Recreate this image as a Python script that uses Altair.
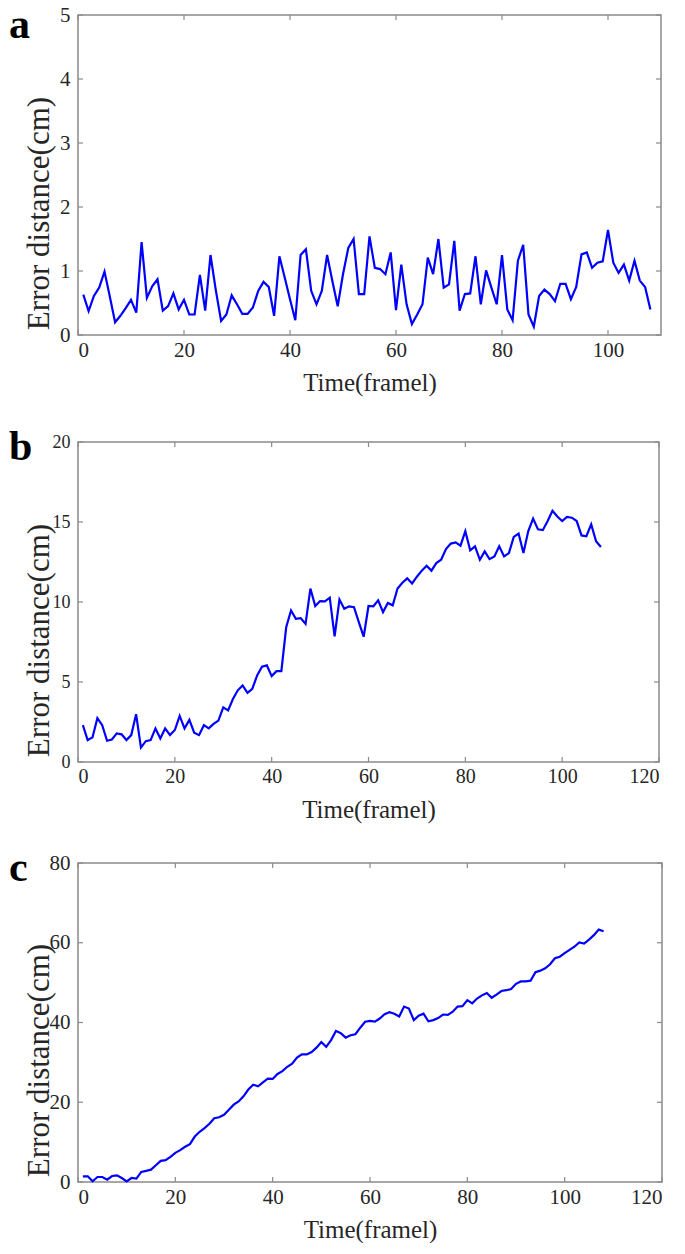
import altair as alt
import pandas as pd

FONT = "Liberation Serif"
GRAY = "#8a8a8a"
LABEL = "#262626"
BLUE = "#0000ff"

frames = list(range(1, 109))

err_a = [0.63, 0.375, 0.61, 0.74, 0.99, 0.6, 0.2, 0.3, 0.42, 0.55,
         0.35, 1.45, 0.58, 0.76, 0.87, 0.38, 0.45, 0.65, 0.4, 0.55,
         0.32, 0.32, 0.94, 0.38, 1.25, 0.7, 0.22, 0.32, 0.62, 0.48,
         0.33, 0.33, 0.43, 0.69, 0.83, 0.75, 0.3, 1.23, 0.9, 0.56,
         0.23, 1.25, 1.34, 0.69, 0.48, 0.69, 1.25, 0.84, 0.45, 0.95,
         1.36, 1.5, 0.64, 0.64, 1.54, 1.05, 1.03, 0.95, 1.29, 0.39,
         1.1, 0.48, 0.17, 0.32, 0.48, 1.21, 0.95, 1.5, 0.74, 0.79,
         1.47, 0.38, 0.64, 0.65, 1.23, 0.48, 1.01, 0.74, 0.48, 1.25,
         0.4, 0.23, 1.16, 1.41, 0.32, 0.13, 0.61, 0.71, 0.64, 0.53,
         0.8, 0.8, 0.56, 0.75, 1.26, 1.29, 1.05, 1.13, 1.15, 1.64,
         1.13, 0.97, 1.1, 0.85, 1.16, 0.85, 0.75, 0.4]

err_b = [2.3, 1.37, 1.54, 2.74, 2.3, 1.33, 1.41, 1.79, 1.73, 1.37,
         1.68, 2.99, 0.9, 1.3, 1.37, 2.1, 1.47, 2.1, 1.68, 2.0,
         2.88, 2.1, 2.63, 1.83, 1.68, 2.3, 2.1, 2.38, 2.59, 3.41,
         3.22, 3.94, 4.48, 4.78, 4.32, 4.57, 5.41, 5.96, 6.04, 5.37,
         5.68, 5.68, 8.42, 9.47, 8.95, 8.99, 8.63, 10.84, 9.75, 10.06,
         10.04, 10.27, 7.85, 10.15, 9.58, 9.73, 9.68, 8.74, 7.83, 9.75,
         9.73, 10.1, 9.37, 9.94, 9.79, 10.84, 11.2, 11.48, 11.16, 11.58,
         11.96, 12.26, 11.96, 12.43, 12.64, 13.31, 13.65, 13.73, 13.52, 14.43,
         13.23, 13.48, 12.64, 13.16, 12.68, 12.85, 13.48, 12.85, 13.06, 14.07,
         14.28, 13.06, 14.43, 15.21, 14.54, 14.49, 15.06, 15.7, 15.34, 15.06,
         15.32, 15.27, 15.06, 14.16, 14.11, 14.85, 13.8, 13.44]

err_c = [1.43, 1.43, 0.17, 1.26, 1.26, 0.6, 1.5, 1.68, 1.0, 0.17,
         1.0, 0.84, 2.53, 2.78, 3.1, 4.2, 5.3, 5.47, 6.3, 7.3,
         8.0, 8.84, 9.5, 11.4, 12.6, 13.5, 14.6, 16.0, 16.25, 16.84,
         18.1, 19.4, 20.2, 21.5, 23.2, 24.4, 24.0, 25.0, 25.9, 25.85,
         27.1, 27.8, 28.9, 29.7, 31.2, 32.0, 32.0, 32.6, 33.7, 35.1,
         33.9, 35.6, 37.9, 37.3, 36.2, 36.8, 37.05, 38.7, 40.2, 40.4,
         40.2, 41.0, 42.1, 42.6, 42.2, 41.5, 44.0, 43.5, 40.6, 41.7,
         42.2, 40.3, 40.6, 41.1, 42.0, 41.9, 42.7, 44.0, 44.1, 45.6,
         44.8, 46.0, 46.8, 47.4, 46.2, 47.0, 47.9, 48.1, 48.4, 49.7,
         50.3, 50.3, 50.5, 52.6, 53.0, 53.6, 54.6, 56.1, 56.5, 57.4,
         58.2, 59.0, 60.1, 59.8, 60.8, 61.9, 63.3, 62.9]

xticks_a = [0, 20, 40, 60, 80, 100]
xticks_bc = [0, 20, 40, 60, 80, 100, 120]
yticks_a = [0, 1, 2, 3, 4, 5]
yticks_b = [0, 5, 10, 15, 20]
yticks_c = [0, 20, 40, 60, 80]

X_TITLE = "Time(framel)"
Y_TITLE = "Error distance(cm)"


def panel(vals, letter, xmax, ymax, xticks, yticks, width, height,
          ylab_size, xlab_size, letter_y):
    df = pd.DataFrame({"t": frames, "v": vals})
    xs = alt.Scale(domain=[0, xmax], nice=False, zero=False)
    ys = alt.Scale(domain=[0, ymax], nice=False, zero=False)
    line = alt.Chart(df).mark_line(color=BLUE, strokeWidth=2.2).encode(
        x=alt.X("t:Q", scale=xs, axis=alt.Axis(
            values=xticks, format="d", title=X_TITLE, labelFontSize=xlab_size,
            labelPadding=4, titleX=width / 2, titleY=55,
            titleBaseline="alphabetic", titleFontSize=25)),
        y=alt.Y("v:Q", scale=ys, axis=alt.Axis(
            values=yticks, format="d", title=Y_TITLE, labelFontSize=ylab_size,
            labelPadding=8, titleX=-39, titleY=height - 122,
            titleAngle=270, titleBaseline="middle", titleAlign="center",
            titleFontSize=31)),
    )
    xt = pd.DataFrame({"t": xticks})
    yt = pd.DataFrame({"v": yticks})
    tick_bottom = alt.Chart(xt).mark_rule(color=GRAY, strokeWidth=1.2).encode(
        x=alt.X("t:Q"),
        y=alt.value(height), y2=alt.value(height - 5))
    tick_top = alt.Chart(xt).mark_rule(color=GRAY, strokeWidth=1.2).encode(
        x=alt.X("t:Q"),
        y=alt.value(0), y2=alt.value(5))
    tick_left = alt.Chart(yt).mark_rule(color=GRAY, strokeWidth=1.2).encode(
        y=alt.Y("v:Q"),
        x=alt.value(0), x2=alt.value(5))
    tick_right = alt.Chart(yt).mark_rule(color=GRAY, strokeWidth=1.2).encode(
        y=alt.Y("v:Q"),
        x=alt.value(width), x2=alt.value(width - 5))
    lab = alt.Chart(pd.DataFrame({"l": [letter]})).mark_text(
        font=FONT, fontSize=42, fontWeight="bold", align="left",
        baseline="alphabetic", color="#000000").encode(
        text="l:N", x=alt.value(-69), y=alt.value(letter_y))
    return alt.layer(line, tick_bottom, tick_top, tick_left, tick_right, lab).properties(
        width=width, height=height)


pa = panel(err_a, "a", 110, 5, xticks_a, yticks_a, 583, 320, 21, 21, 23)
pb = panel(err_b, "b", 120, 20, xticks_bc, yticks_b, 581, 320, 18, 20, 18)
pc = panel(err_c, "c", 120, 80, xticks_bc, yticks_c, 584, 319, 21, 21, 18)

chart = alt.vconcat(pa, alt.vconcat(pb, pc, spacing=23), spacing=29).properties(
    padding={"left": 0, "top": -5, "right": 0, "bottom": 0},
    background="white"
).configure_view(
    stroke=GRAY, strokeWidth=1.5
).configure_axis(
    domain=False, ticks=False, grid=False,
    labelFont=FONT, titleFont=FONT, labelColor=LABEL, titleColor=LABEL,
    titleFontWeight="normal"
)

chart.save("out.html", embed_options={"renderer": "svg", "actions": False})
